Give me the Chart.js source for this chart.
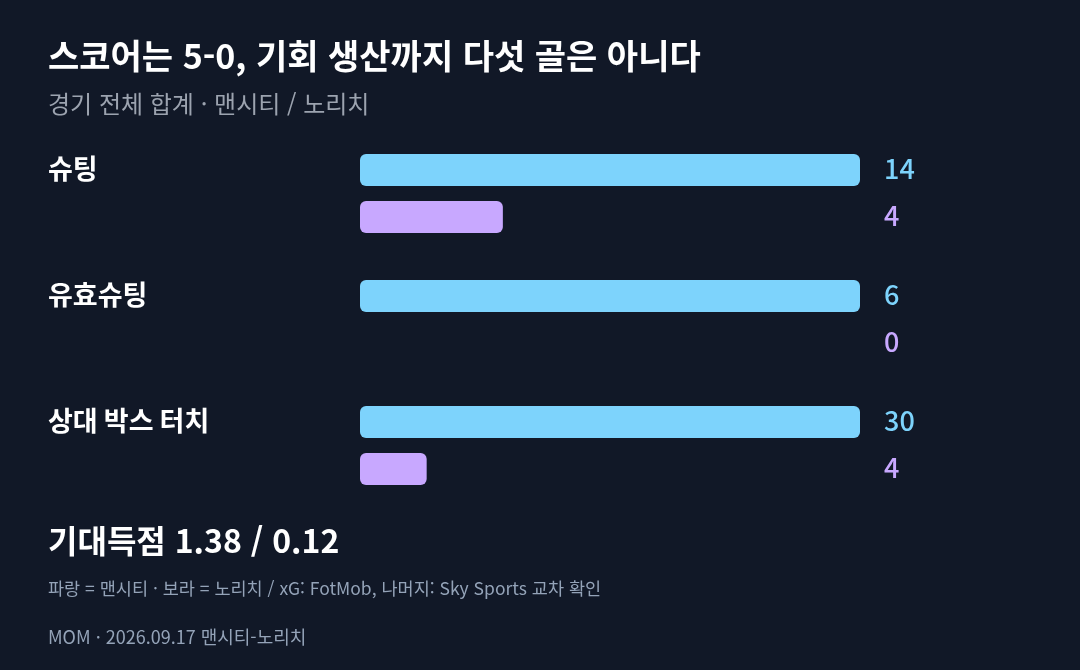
<!DOCTYPE html>
<html lang="ko">
<head>
<meta charset="utf-8">
<script src="https://cdn.jsdelivr.net/npm/chart.js@4/dist/chart.umd.min.js"></script>
<style>
  html, body { margin: 0; padding: 0; background: #111827; }
  body { width: 1080px; height: 670px; position: relative; overflow: hidden; font-family: "Noto Sans CJK KR", "Noto Sans", sans-serif; }
  .t { position: absolute; left: 48px; white-space: nowrap; }
  #title { top: 38px; font-size: 34px; line-height: 34px; font-weight: 700; color: #ffffff; }
  #subtitle { top: 91px; font-size: 24px; line-height: 24px; font-weight: 400; color: #9ca3af; }
  #xg { top: 523px; font-size: 32px; line-height: 32px; font-weight: 700; color: #ffffff; }
  #note { top: 579px; font-size: 17.5px; line-height: 18px; color: #94a3b8; }
  #source { top: 627px; font-size: 18px; line-height: 18px; color: #94a3b8; }
  #wrap { position: absolute; left: 0; top: 0; width: 1080px; height: 670px; }
</style>
</head>
<body>
<div id="wrap"><canvas id="c"></canvas></div>
<div class="t" id="title">스코어는 5-0, 기회 생산까지 다섯 골은 아니다</div>
<div class="t" id="subtitle">경기 전체 합계 · 맨시티 / 노리치</div>
<div class="t" id="xg">기대득점 1.38 / 0.12</div>
<div class="t" id="note">파랑 = 맨시티 · 보라 = 노리치 / xG: FotMob, 나머지: Sky Sports 교차 확인</div>
<div class="t" id="source">MOM · 2026.09.17 맨시티-노리치</div>
<script>
const categories = ['슈팅', '유효슈팅', '상대 박스 터치'];
const cityValues = [14, 6, 30];
const norwichValues = [4, 0, 4];
const seriesNames = ['맨시티', '노리치'];

const BLUE = '#7dd3fc';
const PURPLE = '#c8a8ff';

// each category is scaled to its own larger value (100%)
const maxPer = categories.map((_, i) => Math.max(cityValues[i], norwichValues[i]));
const cityPct = cityValues.map((v, i) => v / maxPer[i] * 100);
const norwichPct = norwichValues.map((v, i) => v / maxPer[i] * 100);
const rawValues = [cityValues, norwichValues];

const valueLabels = {
  id: 'valueLabels',
  afterDatasetsDraw(chart) {
    const ctx = chart.ctx;
    const x = chart.chartArea.right + 24;
    ctx.save();
    ctx.font = '500 27px "Noto Sans CJK KR", "Noto Sans", sans-serif';
    ctx.textAlign = 'left';
    ctx.textBaseline = 'middle';
    chart.data.datasets.forEach((ds, di) => {
      const meta = chart.getDatasetMeta(di);
      ctx.fillStyle = di === 0 ? BLUE : PURPLE;
      meta.data.forEach((el, i) => {
        ctx.fillText(String(rawValues[di][i]), x, el.y - 1);
      });
    });
    ctx.restore();
  }
};

new Chart(document.getElementById('c'), {
  type: 'bar',
  data: {
    labels: categories,
    datasets: [
      { label: seriesNames[0], data: cityPct, backgroundColor: BLUE },
      { label: seriesNames[1], data: norwichPct, backgroundColor: PURPLE }
    ]
  },
  options: {
    indexAxis: 'y',
    responsive: true,
    maintainAspectRatio: false,
    animation: false,
    devicePixelRatio: 1,
    layout: { padding: { left: 48, right: 220, top: 130.5, bottom: 161.5 } },
    datasets: {
      bar: {
        categoryPercentage: 94 / 126,
        barPercentage: 32 / 47,
        borderRadius: 6,
        borderSkipped: false
      }
    },
    scales: {
      x: { display: false, min: 0, max: 100 },
      y: {
        grid: { display: false },
        border: { display: false },
        afterFit(scale) { scale.width = 312; },
        ticks: {
          color: '#ffffff',
          font: { family: '"Noto Sans CJK KR", "Noto Sans", sans-serif', size: 27, weight: '700' },
          crossAlign: 'far',
          padding: 0,
          labelOffset: -24.5
        }
      }
    },
    plugins: {
      legend: { display: false },
      tooltip: { enabled: false }
    }
  },
  plugins: [valueLabels]
});
</script>
</body>
</html>
